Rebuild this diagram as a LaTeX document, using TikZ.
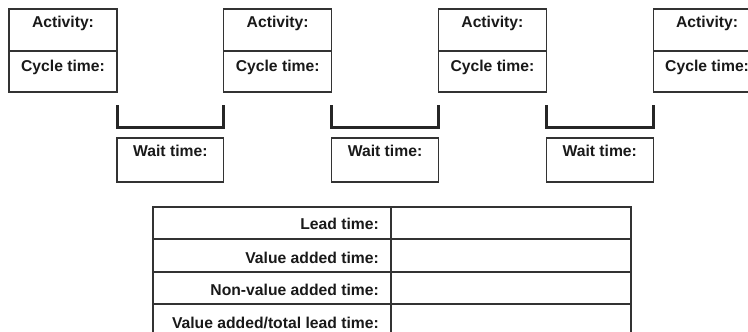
\documentclass[tikz,border=0pt]{standalone}
\usepackage{fontspec}
\setmainfont{Liberation Sans}
\begin{document}
\begin{tikzpicture}[x=1pt,y=-1pt,
  frame/.style={draw=black!80, line width=1.2pt, inner sep=0pt, outer sep=0pt},
  lbl/.style={font=\fontsize{15.7}{18}\selectfont\bfseries, text=black!90, inner sep=0pt, anchor=base},
  rlbl/.style={lbl, anchor=base east},
  tray/.style={draw=black!85, line width=3pt, line cap=butt, line join=miter}]
\useasboundingbox (0,0) rectangle (748,332);
\clip (0,0) rectangle (748,332);
% activity boxes
\foreach \i/\x in {1/9,2/223.7,3/438.4,4/653.1} {
  \node[frame, minimum width=108pt, minimum height=83pt, anchor=north west] (act\i) at (\x,9) {};
  \draw[frame] ([yshift=-42pt]act\i.north west) -- ([yshift=-42pt]act\i.north east);
  \node[lbl] (actname\i) at (\x+54,27.5) {Activity:};
  \node[lbl] (actcycle\i) at (\x+54,71) {Cycle time:};
}
% waiting trays and wait-time boxes between activities
\foreach \i/\j/\x in {1/2/117,2/3/331.7,3/4/546.4} {
  \draw[tray] (act\i.east |- 0,105) -- (act\i.east |- 0,127.5)
    -- (act\j.west |- 0,127.5) -- (act\j.west |- 0,105);
  \node[frame, minimum width=106.7pt, minimum height=44pt, anchor=north west] (wait\i) at (\x,138) {};
  \node[lbl] (waitlbl\i) at (\x+53.35,156) {Wait time:};
}
% summary table
\node[frame, minimum width=238pt, minimum height=32pt, anchor=north west] (lc1) at (153,207) {};
\node[frame, minimum width=240pt, minimum height=32pt, anchor=north west] (rc1) at (391,207) {};
\node[frame, minimum width=238pt, minimum height=33pt, anchor=north west] (lc2) at (153,239) {};
\node[frame, minimum width=240pt, minimum height=33pt, anchor=north west] (rc2) at (391,239) {};
\node[frame, minimum width=238pt, minimum height=32pt, anchor=north west] (lc3) at (153,272) {};
\node[frame, minimum width=240pt, minimum height=32pt, anchor=north west] (rc3) at (391,272) {};
\node[frame, minimum width=238pt, minimum height=34pt, anchor=north west] (lc4) at (153,304) {};
\node[frame, minimum width=240pt, minimum height=34pt, anchor=north west] (rc4) at (391,304) {};
\node[rlbl] (lead) at (379,229) {Lead time:};
\node[rlbl] (va) at (379,263) {Value added time:};
\node[rlbl] (nva) at (379,295.5) {Non-value added time:};
\node[rlbl] (ratio) at (379,328) {Value added/total lead time:};
\end{tikzpicture}
\end{document}
